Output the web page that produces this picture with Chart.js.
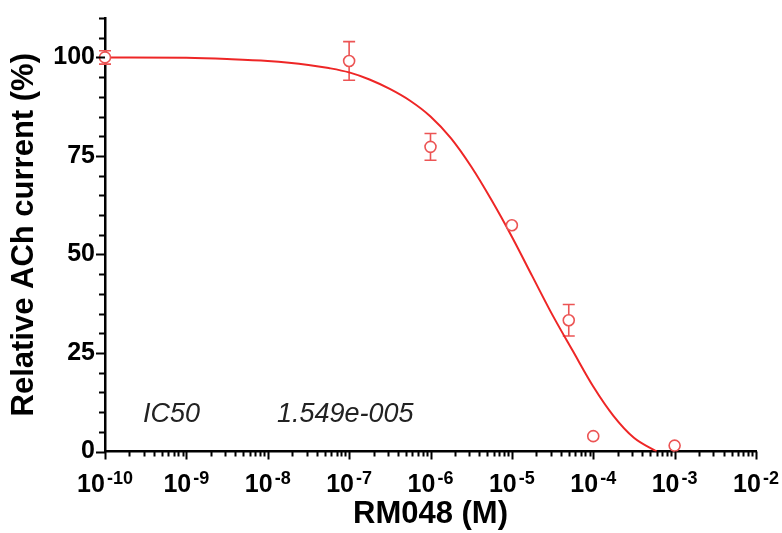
<!DOCTYPE html>
<html>
<head>
<meta charset="utf-8">
<script src="https://cdn.jsdelivr.net/npm/chart.js@4/dist/chart.umd.min.js"></script>
<style>
  html, body { margin: 0; padding: 0; background: #fff; }
  #wrap { width: 782px; height: 533px; }
</style>
</head>
<body>
<div id="wrap"><canvas id="ic50Chart" width="782" height="533"></canvas></div>
<script>
// Concentrações (M) e correntes medidas (% do controle)
const doses = [1e-10, 1e-7, 1e-6, 1e-5, 5e-5, 1e-4, 1e-3];
const meanCurrent = [100, 99.1, 77.3, 57.4, 33.3, 3.9, 1.5];
const semCurrent = [1.7, 4.9, 3.4, 0, 4.0, 0, 0];

const fitX = [1e-10, 1e-9, 3.16e-9, 1e-8, 3.16e-8, 5.62e-8, 1e-7, 1.78e-7, 3.16e-7,
              5.62e-7, 1e-6, 1.78e-6, 3.16e-6, 5.62e-6, 1e-5, 1.78e-5, 3.16e-5,
              5.62e-5, 1e-4, 1.78e-4, 3.16e-4, 6.03e-4];
const fitY = [100, 99.9, 99.6, 99.1, 98.1, 97.3, 96.2, 94.4, 92.0,
              89.0, 85.0, 79.5, 72.3, 63.8, 54.5, 44.5, 34.6,
              25.5, 16.5, 9.0, 3.5, 0];

// Eixos
const yTickValues = [0, 25, 50, 75, 100];
const xDecades = [-10, -9, -8, -7, -6, -5, -4, -3, -2];
const ic50Label = 'IC50';
const ic50Value = '1.549e-005';

const curveColor = 'rgb(238, 38, 38)';
const markerColor = 'rgb(236, 84, 84)';

Chart.defaults.font.family = "'Liberation Sans', Arial, sans-serif";
Chart.defaults.color = '#000';

// Barras de erro (desenhadas antes dos pontos)
const errorBars = {
    id: 'errorBars',
    beforeDatasetsDraw(chart) {
        const ctx = chart.ctx;
        const xs = chart.scales.x, ys = chart.scales.y;
        ctx.save();
        ctx.strokeStyle = markerColor;
        ctx.lineWidth = 1.6;
        doses.forEach((d, i) => {
            if (!semCurrent[i]) return;
            const px = xs.getPixelForValue(d);
            const top = ys.getPixelForValue(meanCurrent[i] + semCurrent[i]);
            const bot = ys.getPixelForValue(meanCurrent[i] - semCurrent[i]);
            ctx.beginPath();
            ctx.moveTo(px, top); ctx.lineTo(px, bot);
            ctx.moveTo(px - 6, top); ctx.lineTo(px + 6, top);
            ctx.moveTo(px - 6, bot); ctx.lineTo(px + 6, bot);
            ctx.stroke();
        });
        ctx.restore();
    }
};

// Marcas dos eixos, rótulos 10^n e texto do IC50
const axisMarks = {
    id: 'axisMarks',
    afterDraw(chart) {
        const ctx = chart.ctx;
        const xs = chart.scales.x, ys = chart.scales.y;
        const area = chart.chartArea;
        ctx.save();
        ctx.strokeStyle = '#000';
        ctx.lineWidth = 2;
        ctx.beginPath();
        for (let v = 0; v <= 110; v += 5) {
            const py = Math.round(ys.getPixelForValue(v)) + 0.5;
            const len = v % 25 === 0 ? 9 : 6;
            ctx.moveTo(area.left - len, py);
            ctx.lineTo(area.left, py);
        }
        xDecades.forEach(d => {
            for (let m = 1; m <= 9; m++) {
                if (d === -2 && m > 1) break;
                const px = Math.round(xs.getPixelForValue(m * Math.pow(10, d))) + 0.5;
                const len = m === 1 ? 8 : 5;
                ctx.moveTo(px, area.bottom);
                ctx.lineTo(px, area.bottom + len);
            }
        });
        ctx.stroke();

        // rótulos do eixo x
        ctx.fillStyle = '#000';
        ctx.textBaseline = 'alphabetic';
        ctx.textAlign = 'left';
        const baseFont = "bold 25px 'Liberation Sans', Arial, sans-serif";
        const expFont = "bold 18px 'Liberation Sans', Arial, sans-serif";
        xDecades.forEach(d => {
            const px = xs.getPixelForValue(Math.pow(10, d));
            const expText = '-' + Math.abs(d);
            ctx.font = baseFont;
            const w1 = ctx.measureText('10').width;
            ctx.font = expFont;
            const w2 = ctx.measureText(expText).width;
            const x0 = px - (w1 + 2 + w2) / 2;
            ctx.font = baseFont;
            ctx.fillText('10', x0, area.bottom + 40);
            ctx.font = expFont;
            ctx.fillText(expText, x0 + w1 + 2, area.bottom + 32);
        });

        // IC50
        ctx.fillStyle = '#222';
        ctx.font = "italic 27px 'Liberation Sans', Arial, sans-serif";
        ctx.fillText(ic50Label, area.left + 38, area.bottom - 30);
        ctx.fillText(ic50Value, area.left + 172, area.bottom - 30);
        ctx.restore();
    }
};

new Chart(document.getElementById('ic50Chart'), {
    type: 'scatter',
    data: {
        datasets: [{
            label: 'RM048',
            data: doses.map((d, i) => ({ x: d, y: meanCurrent[i] })),
            pointStyle: 'circle',
            pointRadius: 5.5,
            pointBorderWidth: 1.6,
            pointBorderColor: markerColor,
            pointBackgroundColor: '#fff',
            clip: false
        }, {
            label: 'Ajuste',
            data: fitX.map((x, i) => ({ x: x, y: fitY[i] })),
            showLine: true,
            borderColor: curveColor,
            borderWidth: 2,
            pointRadius: 0,
            cubicInterpolationMode: 'monotone',
            fill: false
        }]
    },
    options: {
        responsive: false,
        animation: false,
        layout: { padding: { top: 18, right: 26, left: 0, bottom: 0 } },
        plugins: {
            legend: { display: false },
            tooltip: { enabled: false }
        },
        scales: {
            x: {
                type: 'logarithmic',
                min: 1e-10,
                max: 1e-2,
                grid: { drawOnChartArea: false, tickColor: 'rgba(0,0,0,0)', tickLength: 8 },
                border: { display: true, color: '#000', width: 2.5 },
                ticks: { display: false },
                title: {
                    display: true,
                    text: 'RM048 (M)',
                    font: { size: 31, weight: 'bold' },
                    color: '#000',
                    padding: { top: 0, bottom: 0 }
                },
                afterFit(scale) { scale.height = 81.5; }
            },
            y: {
                min: 0,
                max: 110,
                grid: { drawOnChartArea: false, tickColor: 'rgba(0,0,0,0)', tickLength: 9 },
                border: { display: true, color: '#000', width: 2.5 },
                ticks: {
                    stepSize: 25,
                    includeBounds: false,
                    padding: 1,
                    font: { size: 25, weight: 'bold' },
                    color: '#000',
                    callback: v => yTickValues.includes(v) ? String(v) : ''
                },
                title: {
                    display: true,
                    text: 'Relative ACh current (%)',
                    font: { size: 31, weight: 'bold' },
                    color: '#000',
                    padding: { top: 6, bottom: 0 }
                },
                afterFit(scale) { scale.width = 105; }
            }
        }
    },
    plugins: [errorBars, axisMarks]
});
</script>
</body>
</html>
